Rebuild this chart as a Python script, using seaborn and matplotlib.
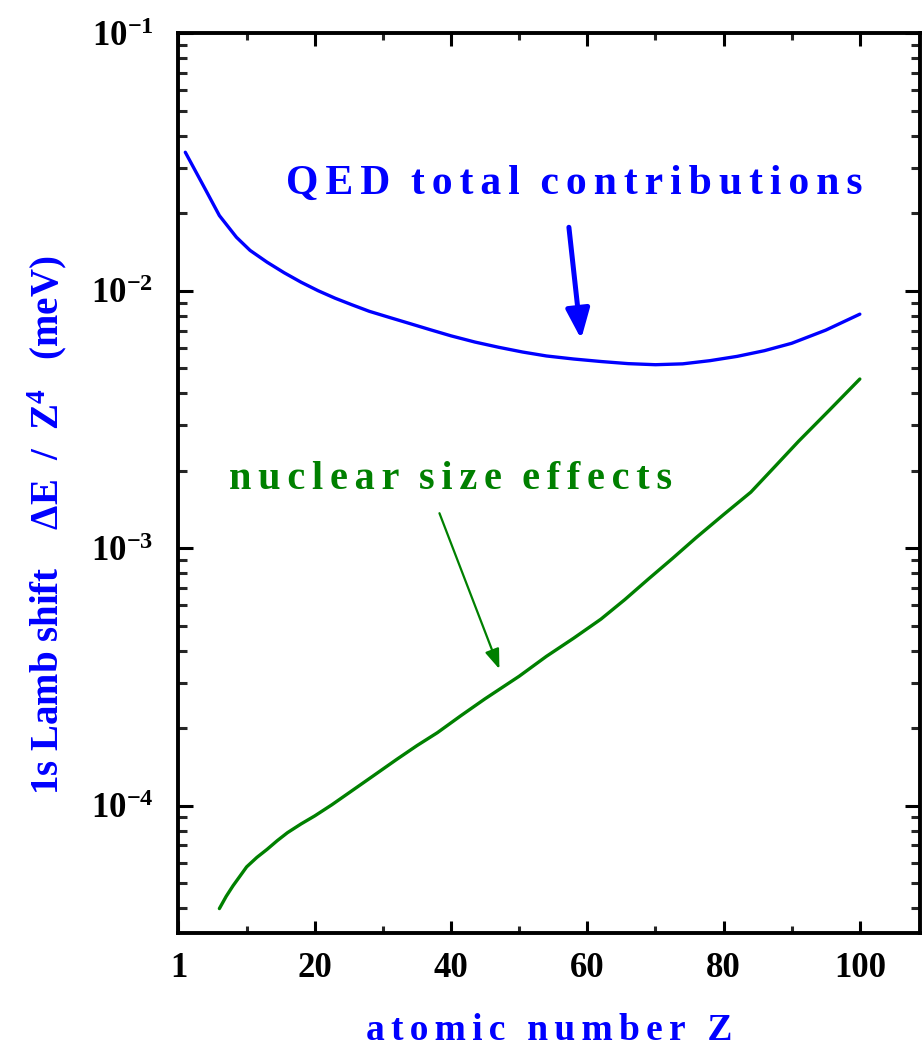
import numpy as np
import pandas as pd
import matplotlib
matplotlib.use("Agg")
import matplotlib.pyplot as plt
from matplotlib.ticker import FixedLocator, FixedFormatter, LogLocator, NullFormatter
import seaborn as sns

# ---- data ----
z_qed = [1, 4, 6, 8.5, 10.5, 13, 15.5, 18, 20.5, 23, 25.5, 28, 31, 34, 37, 40, 43.5,
         47, 50.5, 54, 58, 62, 66, 70, 74, 78, 82, 86, 90, 95, 100]
qed_total = [0.03451, 0.02460, 0.01959, 0.01614, 0.01435, 0.01291, 0.01175, 0.01079,
             0.01000, 0.00935, 0.00881, 0.00832, 0.00787, 0.00745, 0.00705, 0.00668,
             0.00632, 0.00603, 0.00578, 0.00558, 0.00543, 0.00531, 0.00521, 0.00516,
             0.00520, 0.00535, 0.00556, 0.00585, 0.00625, 0.00703, 0.00811]

z_ns = [6, 7, 8, 9, 10, 11.5, 13, 14.5, 16, 18, 20, 22.5, 25, 28.5, 32, 35, 38, 41.5,
        45, 50, 54, 58, 62, 65.5, 69, 72.5, 76, 80, 84, 87.5, 91, 95.5, 100]
nuclear_size = [3.98e-5, 4.44e-5, 4.88e-5, 5.31e-5, 5.78e-5, 6.29e-5, 6.76e-5, 7.31e-5,
                7.85e-5, 8.49e-5, 9.12e-5, 1.007e-4, 1.12e-4, 1.30e-4, 1.51e-4, 1.71e-4,
                1.92e-4, 2.24e-4, 2.60e-4, 3.18e-4, 3.80e-4, 4.47e-4, 5.30e-4, 6.31e-4,
                7.60e-4, 9.12e-4, 1.10e-3, 1.35e-3, 1.65e-3, 2.07e-3, 2.60e-3, 3.43e-3,
                4.54e-3]

x_tick_pos = [0, 20, 40, 60, 80, 100]
x_tick_labels = ["1", "20", "40", "60", "80", "100"]
y_tick_pos = [1e-4, 1e-3, 1e-2, 1e-1]
y_tick_labels = [r"$10^{-4}$", r"$10^{-3}$", r"$10^{-2}$", r"$10^{-1}$"]

BLUE = "#0000FF"
GREEN = "#008000"

sns.set_style("ticks")
plt.rcParams["font.family"] = ["Liberation Serif", "DejaVu Serif"]
plt.rcParams["font.weight"] = "bold"
plt.rcParams["mathtext.fontset"] = "custom"
plt.rcParams["mathtext.rm"] = "Liberation Serif:bold"
plt.rcParams["mathtext.bf"] = "Liberation Serif:bold"
plt.rcParams["mathtext.it"] = "Liberation Serif:bold:italic"

HAIR = "\u200a"


def spaced(s, n=2):
    return (HAIR * n).join(list(s))


fig = plt.figure(figsize=(9.22, 10.51), dpi=100)
ax = fig.add_axes([0.1936, 0.1123, 0.8040, 0.8560])

df_qed = pd.DataFrame({"Z": z_qed, "val": qed_total})
df_ns = pd.DataFrame({"Z": z_ns, "val": nuclear_size})
sns.lineplot(data=df_qed, x="Z", y="val", ax=ax, color=BLUE, lw=2.4, legend=False)
sns.lineplot(data=df_ns, x="Z", y="val", ax=ax, color=GREEN, lw=2.4, legend=False)

ax.set_yscale("log")
ax.set_xlim(0, 108.8)
ax.set_ylim(3.2e-5, 0.1)

ax.xaxis.set_major_locator(FixedLocator(x_tick_pos))
ax.xaxis.set_major_formatter(FixedFormatter(x_tick_labels))
ax.xaxis.set_minor_locator(FixedLocator([10, 30, 50, 70, 90]))
ax.yaxis.set_major_locator(FixedLocator(y_tick_pos))
ax.yaxis.set_major_formatter(FixedFormatter(y_tick_labels))
ax.yaxis.set_minor_locator(LogLocator(base=10, subs=np.arange(2, 10)))
ax.yaxis.set_minor_formatter(NullFormatter())

for s in ax.spines.values():
    s.set_linewidth(2.8)
    s.set_color("black")
    s.set_visible(True)

ax.tick_params(axis="x", which="major", direction="in", length=9, width=2.2,
               top=True, bottom=True, labelsize=25, pad=14, colors="black")
ax.tick_params(axis="x", which="minor", direction="in", length=5, width=2.2,
               top=True, bottom=True)
ax.tick_params(axis="y", which="major", direction="in", length=11, width=2.2,
               left=True, right=True, labelsize=25, pad=18, colors="black")
ax.tick_params(axis="y", which="minor", direction="in", length=6.5, width=2.2,
               left=True, right=True)
for lab in ax.get_xticklabels() + ax.get_yticklabels():
    lab.set_fontweight("bold")

ax.set_xlabel("")
ax.set_ylabel("")
ax.grid(False)

# axis titles
fig.text(0.5 * (0.1936 + 0.9976), 1 - 1030 / 1051, spaced("atomic number Z", 2),
         color=BLUE, fontsize=27, fontweight="bold", ha="center", va="center")
fig.text(47 / 922, 1 - 525 / 1051,
         "1s Lamb shift    \u0394E  /  Z$^{4}$   (meV)",
         color=BLUE, fontsize=28, fontweight="bold", rotation=90,
         ha="center", va="center")

# annotations
ax.annotate("", xy=(59.1, 0.00649), xytext=(57.3, 0.01764),
            arrowprops=dict(arrowstyle="-|>,head_length=0.9,head_width=0.36",
                            mutation_scale=20, lw=3.6, color=BLUE,
                            shrinkA=0, shrinkB=0))
ax.text(58.1, 0.0238, spaced("QED") + "  " + spaced("total") + "  " + spaced("contributions"),
        color=BLUE, fontsize=30, fontweight="bold", ha="center", va="baseline")

ax.annotate("", xy=(47.1, 3.39e-4), xytext=(38.3, 1.367e-3),
            arrowprops=dict(arrowstyle="-|>,head_length=0.6,head_width=0.22",
                            mutation_scale=20, lw=1.6, color=GREEN,
                            shrinkA=0, shrinkB=0))
ax.text(40.0, 1.70e-3, spaced("nuclear") + "  " + spaced("size") + "  " + spaced("effects"),
        color=GREEN, fontsize=29, fontweight="bold", ha="center", va="baseline")

fig.savefig("out.png", dpi=100)
